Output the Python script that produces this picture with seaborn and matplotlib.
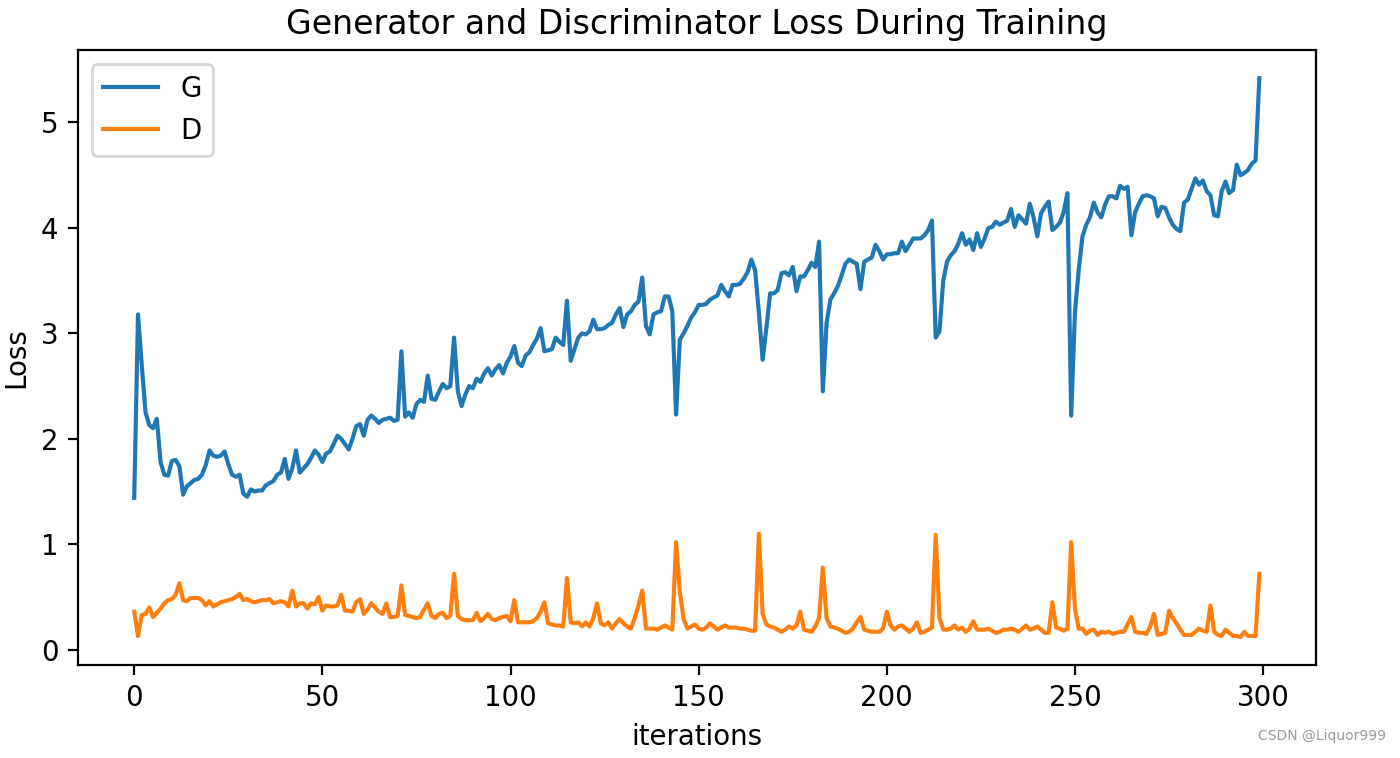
"""Generator / discriminator loss curves, redrawn with seaborn."""

import matplotlib

matplotlib.use("Agg")
import matplotlib.pyplot as plt
import numpy as np
import seaborn as sns

# Loss values, one per iteration
g_losses = [
    1.44, 3.18, 2.70, 2.25, 2.13, 2.10, 2.19, 1.78, 1.66, 1.65,
    1.79, 1.80, 1.74, 1.47, 1.55, 1.58, 1.61, 1.62, 1.66, 1.75,
    1.89, 1.84, 1.83, 1.84, 1.88, 1.76, 1.66, 1.64, 1.66, 1.48,
    1.45, 1.52, 1.50, 1.51, 1.51, 1.56, 1.58, 1.60, 1.66, 1.68,
    1.81, 1.62, 1.72, 1.89, 1.68, 1.72, 1.76, 1.82, 1.89, 1.85,
    1.78, 1.86, 1.88, 1.95, 2.03, 2.00, 1.95, 1.90, 2.00, 2.12,
    2.14, 2.03, 2.18, 2.22, 2.19, 2.15, 2.18, 2.19, 2.20, 2.17,
    2.18, 2.83, 2.21, 2.25, 2.20, 2.33, 2.37, 2.35, 2.60, 2.38,
    2.37, 2.45, 2.52, 2.48, 2.50, 2.96, 2.45, 2.31, 2.42, 2.50,
    2.48, 2.57, 2.54, 2.62, 2.67, 2.60, 2.66, 2.70, 2.62, 2.72,
    2.78, 2.88, 2.72, 2.69, 2.79, 2.82, 2.89, 2.95, 3.05, 2.83,
    2.84, 2.85, 2.96, 2.92, 2.89, 3.31, 2.74, 2.85, 2.96, 3.00,
    2.99, 3.02, 3.13, 3.04, 3.04, 3.05, 3.08, 3.10, 3.18, 3.24,
    3.06, 3.18, 3.21, 3.27, 3.30, 3.53, 3.07, 2.99, 3.18, 3.20,
    3.21, 3.35, 3.35, 3.21, 2.23, 2.94, 3.00, 3.07, 3.15, 3.20,
    3.27, 3.27, 3.28, 3.32, 3.34, 3.36, 3.46, 3.40, 3.35, 3.46,
    3.46, 3.47, 3.52, 3.58, 3.70, 3.60, 3.20, 2.75, 3.05, 3.38,
    3.38, 3.41, 3.57, 3.58, 3.55, 3.63, 3.40, 3.54, 3.54, 3.60,
    3.67, 3.63, 3.87, 2.45, 3.10, 3.32, 3.38, 3.45, 3.55, 3.66,
    3.70, 3.68, 3.66, 3.42, 3.68, 3.70, 3.72, 3.84, 3.78, 3.70,
    3.75, 3.75, 3.76, 3.76, 3.87, 3.78, 3.84, 3.90, 3.90, 3.90,
    3.93, 3.98, 4.07, 2.96, 3.02, 3.50, 3.68, 3.74, 3.78, 3.85,
    3.95, 3.84, 3.89, 3.79, 3.95, 3.82, 3.90, 4.00, 4.01, 4.06,
    4.03, 4.05, 4.07, 4.18, 4.01, 4.12, 4.08, 4.04, 4.23, 4.10,
    3.92, 4.14, 4.20, 4.25, 3.98, 4.01, 4.05, 4.15, 4.33, 2.22,
    3.20, 3.60, 3.92, 4.03, 4.10, 4.24, 4.15, 4.10, 4.22, 4.30,
    4.30, 4.28, 4.40, 4.37, 4.39, 3.93, 4.15, 4.23, 4.30, 4.31,
    4.30, 4.28, 4.11, 4.20, 4.19, 4.10, 4.03, 3.99, 3.97, 4.24,
    4.27, 4.37, 4.47, 4.41, 4.45, 4.35, 4.31, 4.12, 4.11, 4.35,
    4.44, 4.33, 4.36, 4.60, 4.50, 4.52, 4.55, 4.61, 4.64, 5.42,
]

d_losses = [
    0.36, 0.13, 0.33, 0.34, 0.40, 0.31, 0.35, 0.39, 0.44, 0.47,
    0.48, 0.52, 0.63, 0.47, 0.46, 0.49, 0.49, 0.49, 0.47, 0.42,
    0.46, 0.41, 0.43, 0.45, 0.46, 0.47, 0.48, 0.50, 0.53, 0.47,
    0.48, 0.46, 0.45, 0.46, 0.47, 0.47, 0.48, 0.44, 0.45, 0.46,
    0.45, 0.41, 0.56, 0.41, 0.44, 0.44, 0.39, 0.44, 0.43, 0.50,
    0.37, 0.42, 0.41, 0.41, 0.42, 0.52, 0.37, 0.37, 0.36, 0.45,
    0.48, 0.34, 0.38, 0.44, 0.40, 0.36, 0.34, 0.44, 0.31, 0.31,
    0.32, 0.61, 0.33, 0.32, 0.31, 0.30, 0.31, 0.38, 0.44, 0.32,
    0.30, 0.34, 0.35, 0.30, 0.32, 0.72, 0.32, 0.29, 0.28, 0.28,
    0.28, 0.35, 0.27, 0.30, 0.34, 0.29, 0.28, 0.30, 0.31, 0.32,
    0.27, 0.47, 0.26, 0.26, 0.26, 0.26, 0.27, 0.30, 0.36, 0.45,
    0.25, 0.24, 0.23, 0.23, 0.22, 0.68, 0.26, 0.25, 0.26, 0.22,
    0.26, 0.22, 0.30, 0.44, 0.25, 0.23, 0.26, 0.20, 0.25, 0.29,
    0.25, 0.22, 0.20, 0.30, 0.42, 0.56, 0.20, 0.20, 0.20, 0.19,
    0.21, 0.23, 0.21, 0.19, 1.02, 0.55, 0.29, 0.20, 0.22, 0.24,
    0.20, 0.19, 0.21, 0.25, 0.22, 0.19, 0.21, 0.23, 0.21, 0.21,
    0.21, 0.20, 0.20, 0.19, 0.18, 0.18, 1.10, 0.34, 0.24, 0.22,
    0.21, 0.19, 0.17, 0.19, 0.22, 0.20, 0.23, 0.36, 0.19, 0.18,
    0.17, 0.22, 0.30, 0.78, 0.30, 0.22, 0.21, 0.20, 0.18, 0.16,
    0.17, 0.20, 0.26, 0.31, 0.19, 0.18, 0.17, 0.17, 0.17, 0.20,
    0.36, 0.23, 0.19, 0.22, 0.23, 0.20, 0.17, 0.20, 0.26, 0.16,
    0.17, 0.19, 0.21, 1.09, 0.30, 0.19, 0.19, 0.20, 0.23, 0.19,
    0.21, 0.17, 0.20, 0.27, 0.19, 0.19, 0.19, 0.20, 0.18, 0.16,
    0.17, 0.19, 0.19, 0.20, 0.19, 0.17, 0.20, 0.23, 0.19, 0.20,
    0.22, 0.19, 0.16, 0.16, 0.45, 0.21, 0.20, 0.18, 0.20, 1.02,
    0.39, 0.20, 0.20, 0.15, 0.18, 0.19, 0.14, 0.17, 0.16, 0.17,
    0.15, 0.16, 0.17, 0.17, 0.24, 0.31, 0.17, 0.16, 0.16, 0.15,
    0.22, 0.34, 0.14, 0.15, 0.16, 0.37, 0.30, 0.25, 0.19, 0.14,
    0.14, 0.14, 0.17, 0.20, 0.18, 0.17, 0.42, 0.17, 0.14, 0.13,
    0.19, 0.16, 0.13, 0.13, 0.12, 0.17, 0.13, 0.13, 0.13, 0.72,
]

iterations = np.arange(len(g_losses))

colors = sns.color_palette("tab10", 2)

# the reference is drawn at roughly 2x screen scale, so use a high dpi
dpi = 199
fig = plt.figure(figsize=(1400 / dpi, 758 / dpi), dpi=dpi)
ax = fig.add_axes([0.0557, 0.1227, 0.884, 0.811])

sns.lineplot(x=iterations, y=g_losses, ax=ax, color=colors[0], label="G")
sns.lineplot(x=iterations, y=d_losses, ax=ax, color=colors[1], label="D")

ax.set_title("Generator and Discriminator Loss During Training")
ax.set_xlabel("iterations")
ax.set_ylabel("Loss")
ax.set_xticks([0, 50, 100, 150, 200, 250, 300])
ax.legend(loc="upper left")

fig.text(0.99, 0.02, "CSDN @Liquor999", ha="right", va="bottom",
         fontsize=5, color="#9a9a9a")

fig.savefig("out.png", dpi=dpi)
